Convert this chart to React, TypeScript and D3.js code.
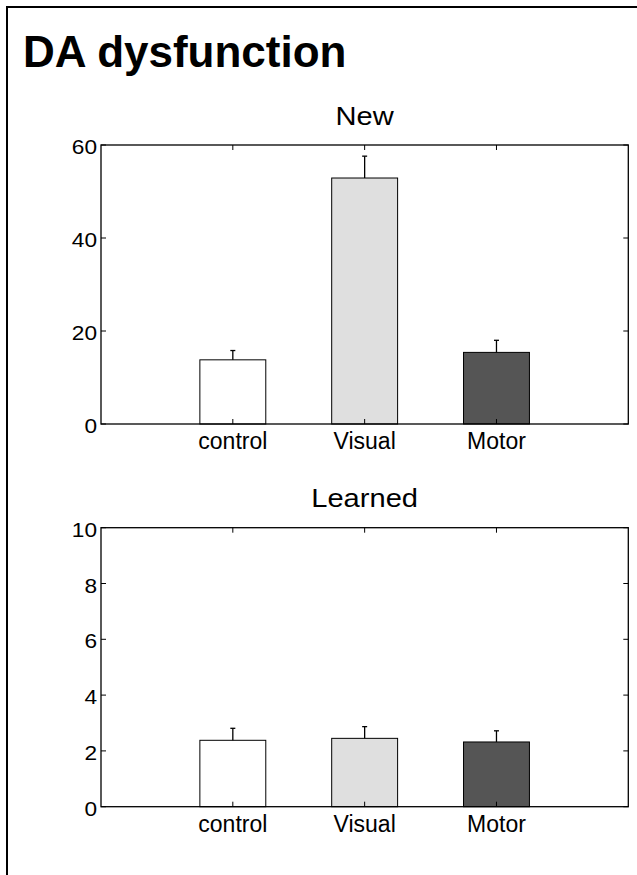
import React from "react";
import * as d3 from "d3";

const categories = ["control", "Visual", "Motor"];
const colors = ["#ffffff", "#dfdfdf", "#555555"];
const newMeans = [13.8, 52.9, 15.4];
const newErr = [2.0, 4.7, 2.6];
const learnedMeans = [2.38, 2.45, 2.32];
const learnedErr = [0.43, 0.42, 0.40];
const newTicks = [0, 20, 40, 60];
const learnedTicks = [0, 2, 4, 6, 8, 10];

const FONT = "'Liberation Sans', Arial, Helvetica, sans-serif";

type PanelProps = {
  title: string;
  means: number[];
  errs: number[];
  ticks: number[];
  yMax: number;
  top: number;
};

function Panel({ title, means, errs, ticks, yMax, top }: PanelProps) {
  const left = 101;
  const right = 628.3;
  const bottom = top + 279;
  const x = d3.scaleLinear().domain([0, 4]).range([left, right]);
  const y = d3.scaleLinear().domain([0, yMax]).range([bottom, top]);
  const bw = x(0.5) - x(0);
  const tl = 5;
  return (
    <g>
      <text
        transform={`translate(${(left + right) / 2},${top - 20.5}) scale(1.12,1)`}
        textAnchor="middle"
        fontSize={26}
        fontFamily={FONT}
      >
        {title}
      </text>
      {means.map((m, i) => {
        const cx = x(i + 1);
        return (
          <g key={i}>
            <rect x={cx - bw / 2} y={y(m)} width={bw} height={y(0) - y(m)} fill={colors[i]} stroke="#000" strokeWidth={1} />
            <line x1={cx} x2={cx} y1={y(m)} y2={y(m + errs[i])} stroke="#000" strokeWidth={1.3} />
            <line x1={cx - 2.5} x2={cx + 2.5} y1={y(m + errs[i])} y2={y(m + errs[i])} stroke="#000" strokeWidth={1.3} />
          </g>
        );
      })}
      <rect x={left} y={top} width={right - left} height={bottom - top} fill="none" stroke="#000" strokeWidth={1.3} />
      {ticks.map((t) => (
        <g key={t}>
          <line x1={left} x2={left + tl} y1={y(t)} y2={y(t)} stroke="#000" strokeWidth={1} />
          <line x1={right} x2={right - tl} y1={y(t)} y2={y(t)} stroke="#000" strokeWidth={1} />
          <text
            transform={`translate(${left - 4},${y(t) + 9}) scale(1.08,1)`}
            textAnchor="end"
            fontSize={21}
            fontFamily={FONT}
          >
            {t}
          </text>
        </g>
      ))}
      {categories.map((c, i) => (
        <g key={c}>
          <line x1={x(i + 1)} x2={x(i + 1)} y1={top} y2={top + tl} stroke="#000" strokeWidth={1} />
          <line x1={x(i + 1)} x2={x(i + 1)} y1={bottom} y2={bottom - tl} stroke="#000" strokeWidth={1} />
          <text x={x(i + 1)} y={bottom + 25} textAnchor="middle" fontSize={23} fontFamily={FONT}>
            {c}
          </text>
        </g>
      ))}
    </g>
  );
}

export default function App() {
  return (
    <svg width={637} height={875} style={{ position: "absolute", left: 0, top: 0, background: "#fff" }}>
      <rect x={0} y={0} width={637} height={875} fill="#fff" />
      <rect x={7} y={7} width={640} height={880} fill="none" stroke="#000" strokeWidth={2} />
      <text x={23} y={67} fontSize={44} fontWeight="bold" fontFamily={FONT}>
        DA dysfunction
      </text>
      <Panel title="New" means={newMeans} errs={newErr} ticks={newTicks} yMax={60} top={145} />
      <Panel title="Learned" means={learnedMeans} errs={learnedErr} ticks={learnedTicks} yMax={10} top={527.7} />
    </svg>
  );
}
